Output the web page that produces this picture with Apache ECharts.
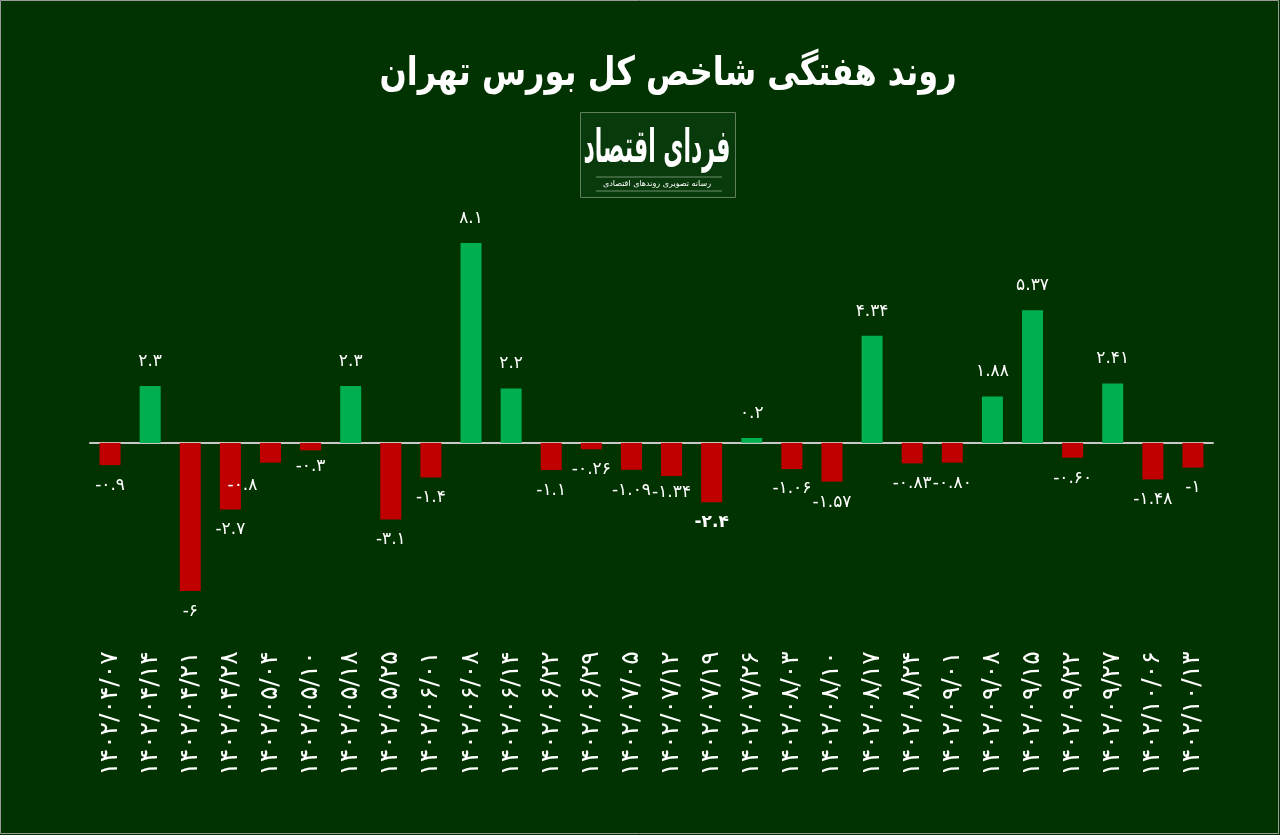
<!DOCTYPE html>
<html>
<head>
<meta charset="utf-8">
<script src="https://cdn.jsdelivr.net/npm/echarts@6/dist/echarts.min.js"></script>
<style>
html,body{margin:0;padding:0;background:#013300;}
#chart{width:1280px;height:835px;}
</style>
</head>
<body>
<div id="chart"></div>
<script>
const categories = ['۱۴۰۲/۰۴/۰۷','۱۴۰۲/۰۴/۱۴','۱۴۰۲/۰۴/۲۱','۱۴۰۲/۰۴/۲۸','۱۴۰۲/۰۵/۰۴','۱۴۰۲/۰۵/۱۰','۱۴۰۲/۰۵/۱۸','۱۴۰۲/۰۵/۲۵','۱۴۰۲/۰۶/۰۱','۱۴۰۲/۰۶/۰۸','۱۴۰۲/۰۶/۱۴','۱۴۰۲/۰۶/۲۲','۱۴۰۲/۰۶/۲۹','۱۴۰۲/۰۷/۰۵','۱۴۰۲/۰۷/۱۲','۱۴۰۲/۰۷/۱۹','۱۴۰۲/۰۷/۲۶','۱۴۰۲/۰۸/۰۳','۱۴۰۲/۰۸/۱۰','۱۴۰۲/۰۸/۱۷','۱۴۰۲/۰۸/۲۴','۱۴۰۲/۰۹/۰۱','۱۴۰۲/۰۹/۰۸','۱۴۰۲/۰۹/۱۵','۱۴۰۲/۰۹/۲۲','۱۴۰۲/۰۹/۲۷','۱۴۰۲/۱۰/۰۶','۱۴۰۲/۱۰/۱۳'];
const values = [-0.9, 2.3, -6, -2.7, -0.8, -0.3, 2.3, -3.1, -1.4, 8.1, 2.2, -1.1, -0.26, -1.09, -1.34, -2.4, 0.2, -1.06, -1.57, 4.34, -0.83, -0.80, 1.88, 5.37, -0.60, 2.41, -1.48, -1];
const valueLabels = ['-۰.۹','۲.۳','-۶','-۲.۷','-۰.۸','-۰.۳','۲.۳','-۳.۱','-۱.۴','۸.۱','۲.۲','-۱.۱','-۰.۲۶','-۱.۰۹','-۱.۳۴','-۲.۴','۰.۲','-۱.۰۶','-۱.۵۷','۴.۳۴','-۰.۸۳','-۰.۸۰','۱.۸۸','۵.۳۷','-۰.۶۰','۲.۴۱','-۱.۴۸','-۱'];
const titleText = 'روند هفتگی شاخص کل بورس تهران';
const logoText = 'فردای اقتصاد';
const logoSub = 'رسانه تصویری روندهای اقتصادی';

const FONT = '"DejaVu Sans", "Noto Sans", sans-serif';
const GREEN = '#00b050', RED = '#c00000';

// small per-label nudges to mimic the reference placement
const labelNudge = {4: [-28, 2], 5: [0, -4], 14: [0, -4], 17: [0, -1]};

const seriesData = values.map((v, i) => {
  const lab = {
    position: v >= 0 ? 'top' : 'bottom',
    distance: v >= 0 ? 16 : 12,
    formatter: valueLabels[i]
  };
  if (labelNudge[i]) lab.offset = labelNudge[i];
  if (i === 15) lab.fontWeight = 'bold';
  return {value: v, itemStyle: {color: v >= 0 ? GREEN : RED}, label: lab};
});

const chart = echarts.init(document.getElementById('chart'), null, {renderer: 'canvas'});
chart.setOption({
  backgroundColor: '#013300',
  animation: false,
  grid: {left: 90, right: 67, top: 196, height: 444.4},
  xAxis: [
    {
      type: 'category',
      data: categories,
      position: 'bottom',
      axisLine: {show: false, onZero: false},
      axisTick: {show: false},
      axisLabel: {color: '#ffffff', rotate: 90, fontSize: 25, fontFamily: FONT, margin: 11, interval: 0}
    },
    {
      type: 'category',
      data: categories,
      position: 'bottom',
      axisLine: {show: true, onZero: true, lineStyle: {color: '#c8c8c8', width: 2}},
      axisTick: {show: false},
      axisLabel: {show: false}
    }
  ],
  yAxis: {
    type: 'value',
    min: -8, max: 10,
    show: false,
    splitLine: {show: false}
  },
  series: [{
    type: 'bar',
    xAxisIndex: 0,
    data: seriesData,
    barWidth: 21,
    label: {show: true, color: '#ffffff', fontSize: 17, fontFamily: FONT}
  }],
  graphic: [
    {type: 'rect', shape: {x: 0.5, y: 0.5, width: 1278, height: 833}, style: {fill: 'none', stroke: '#9a9a9a', lineWidth: 1}, silent: true},
    {type: 'text', x: 668, y: 75, scaleY: 1.25, originX: 0, originY: 0, style: {text: titleText, fill: '#ffffff', font: 'bold 32px ' + FONT, align: 'center', verticalAlign: 'middle'}},
    {type: 'rect', shape: {x: 580.5, y: 112.5, width: 155, height: 85}, style: {fill: '#083a0c', stroke: '#5f7f5f', lineWidth: 1}},
    {type: 'text', x: 657, y: 150, scaleY: 2.1, originX: 0, originY: 0, style: {text: logoText, fill: '#ffffff', font: 'bold 22px ' + FONT, align: 'center', verticalAlign: 'middle'}},
    {type: 'line', shape: {x1: 596, y1: 177, x2: 722, y2: 177}, style: {stroke: '#6f8f6f', lineWidth: 1}},
    {type: 'line', shape: {x1: 596, y1: 191, x2: 722, y2: 191}, style: {stroke: '#6f8f6f', lineWidth: 1}},
    {type: 'text', x: 657, y: 184, style: {text: logoSub, fill: '#ffffff', font: '8px ' + FONT, align: 'center', verticalAlign: 'middle'}}
  ]
});
</script>
</body>
</html>
